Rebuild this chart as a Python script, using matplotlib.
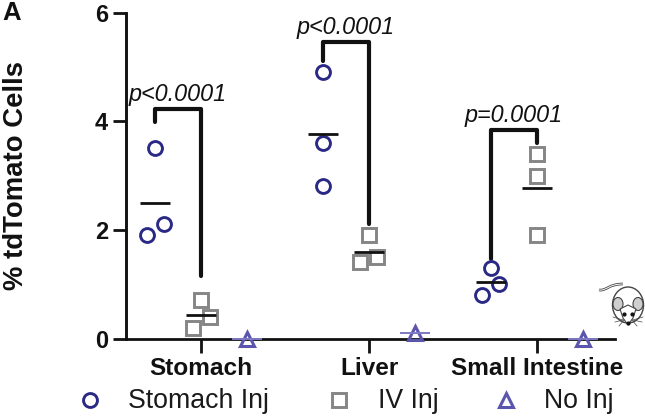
import matplotlib
matplotlib.use("Agg")
import matplotlib.pyplot as plt
from matplotlib.patches import Ellipse, PathPatch
from matplotlib.path import Path

plt.rcParams['font.family'] = ['Liberation Sans', 'DejaVu Sans']

W, H = 645, 416
categories = ["Stomach", "Liver", "Small Intestine"]
stomach_inj_x = [[-0.321, -0.22, -0.274], [-0.274, -0.274, -0.274], [-0.274, -0.226, -0.327]]
stomach_inj_y = [[1.9, 2.1, 3.5], [4.9, 3.6, 2.8], [1.3, 1.0, 0.8]]
iv_inj_x = [[-0.048, 0.054, 0.0], [0.0, -0.054, 0.048], [0.0, 0.0, 0.0]]
iv_inj_y = [[0.2, 0.4, 0.7], [1.9, 1.4, 1.5], [3.4, 3.0, 1.9]]
no_inj_x = [0.274, 0.274, 0.274]
no_inj_y = [0.0, 0.1, 0.0]
p_labels = ["p<0.0001", "p<0.0001", "p=0.0001"]
bracket_top = [4.22, 5.46, 3.84]
bracket_left_end = [3.98, 5.1, 1.46]
bracket_right_end = [1.15, 2.1, 3.6]
legend_labels = ["Stomach Inj", "IV Inj", "No Inj"]

NAVY, GRAY, VIOLET, LILAC = "#2a2a86", "#858585", "#5b55ae", "#7d79c2"

fig = plt.figure(figsize=(W / 100, H / 100), dpi=100)
left, right, top, bottom = 125.5, 615, 12.5, 338.5
ax = fig.add_axes([left / W, 1 - bottom / H, (right - left) / W, (bottom - top) / H])
unit = 168.0
ax.set_xlim((left - 201) / unit, (right - 201) / unit)
ax.set_ylim(0, 6)
ax.patch.set_alpha(0)
for s in ("top", "right"):
    ax.spines[s].set_visible(False)
ax.spines["left"].set_linewidth(2.1)
ax.spines["bottom"].set_linewidth(2.0)
ax.spines["left"].set_color("#111111")
ax.spines["bottom"].set_color("#111111")
ax.set_xticks(range(3))
ax.set_xticklabels(categories, fontsize=17.6, fontweight="bold", color="#111111")
ax.set_yticks([0, 2, 4, 6])
ax.set_yticklabels(["0", "2", "4", "6"], fontsize=17, fontweight="bold", color="#111111")
ax.tick_params(axis="x", length=10, width=2.0, pad=3.5, color="#111111")
ax.tick_params(axis="y", length=9.5, width=2.0, pad=3, color="#111111")
ax.set_ylabel("% tdTomato Cells", fontsize=19.8, fontweight="bold", color="#111111")
ax.yaxis.set_label_coords((16 - left) / (right - left), 0.5, transform=ax.transAxes)
ax.yaxis.label.set_verticalalignment("center")

circle = dict(marker="o", ms=10.0, mfc="none", mec=NAVY, mew=2.1, ls="none", clip_on=False, zorder=3)
square = dict(marker="s", ms=9.5, mfc="none", mec=GRAY, mew=2.1, ls="none", clip_on=False, zorder=3)
triangle = dict(marker="^", ms=9.5, mfc="none", mec=VIOLET, mew=2.2, ls="none", clip_on=False, zorder=3)

def mean_line(center, values, color="#111111", lw=2.0):
    m = sum(values) / len(values)
    ax.plot([center - 0.09, center + 0.09], [m, m], color=color, lw=lw, solid_capstyle="butt", zorder=4, clip_on=False)

for i in range(3):
    ax.plot([i + v for v in stomach_inj_x[i]], stomach_inj_y[i], **circle)
    mean_line(i - 0.274, stomach_inj_y[i])
    ax.plot([i + v for v in iv_inj_x[i]], iv_inj_y[i], **square)
    mean_line(i, iv_inj_y[i])
    ax.plot(i + no_inj_x[i], no_inj_y[i], **triangle)
    mean_line(i + no_inj_x[i], [no_inj_y[i]], color=LILAC, lw=1.4)
    # significance bracket
    ax.plot([i - 0.274, i - 0.274, i, i],
            [bracket_left_end[i], bracket_top[i], bracket_top[i], bracket_right_end[i]],
            color="#111111", lw=3.0, solid_joinstyle="round", solid_capstyle="round", zorder=2)
    ax.text(i - 0.137, bracket_top[i] + 0.06, p_labels[i], ha="center", va="bottom",
            fontsize=16.8, fontstyle="italic", color="#111111")

fig.text(2 / W, 1 - 20 / H, "A", fontsize=18.5, fontweight="bold", color="#111111", va="baseline")

# legend placed in figure pixels
lax = fig.add_axes([0, 0, 1, 1])
lax.set_xlim(0, W)
lax.set_ylim(H, 0)
lax.axis("off")
lax.patch.set_alpha(0)
for label, tx, mx, st in zip(legend_labels, [128, 378, 544], [90, 339, 506], [circle, square, triangle]):
    lax.plot(mx, 400, **st)
    lax.text(tx, 408, label, fontsize=19.2, color="#1a1a1a", va="baseline", ha="left")

# mouse icon
ec = "#444444"
tail = Path([(599, 290), (607, 291), (608, 284), (623, 284)],
            [Path.MOVETO, Path.CURVE4, Path.CURVE4, Path.CURVE4])
lax.add_patch(PathPatch(tail, fc="none", ec=ec, lw=1.9))
lax.add_patch(PathPatch(tail, fc="none", ec="white", lw=0.7))
lax.add_patch(Ellipse((628, 305), 31, 36, fc="white", ec=ec, lw=1.0))
lax.add_patch(Ellipse((618, 304), 10, 13, fc="#cfcfcf", ec=ec, lw=0.8))
lax.add_patch(Ellipse((638, 304), 10, 13, fc="#cfcfcf", ec=ec, lw=0.8))
lax.add_patch(PathPatch(Path([(620, 309), (623, 318), (628, 325), (633, 318), (636, 309), (628, 305), (620, 309)]),
                        fc="white", ec=ec, lw=0.8))
lax.plot([624, 632], [314, 314], ls="none", marker="o", ms=2, color="#111111")
lax.plot(628, 323, marker="o", ms=2, color="#111111")
for x0, x1, y1 in [(623, 613, 317), (623, 615, 322), (624, 619, 326), (633, 643, 317), (633, 642, 322), (632, 637, 326)]:
    lax.plot([x0, x1], [320, y1], color=ec, lw=0.5)

fig.savefig("out.png", dpi=100)
